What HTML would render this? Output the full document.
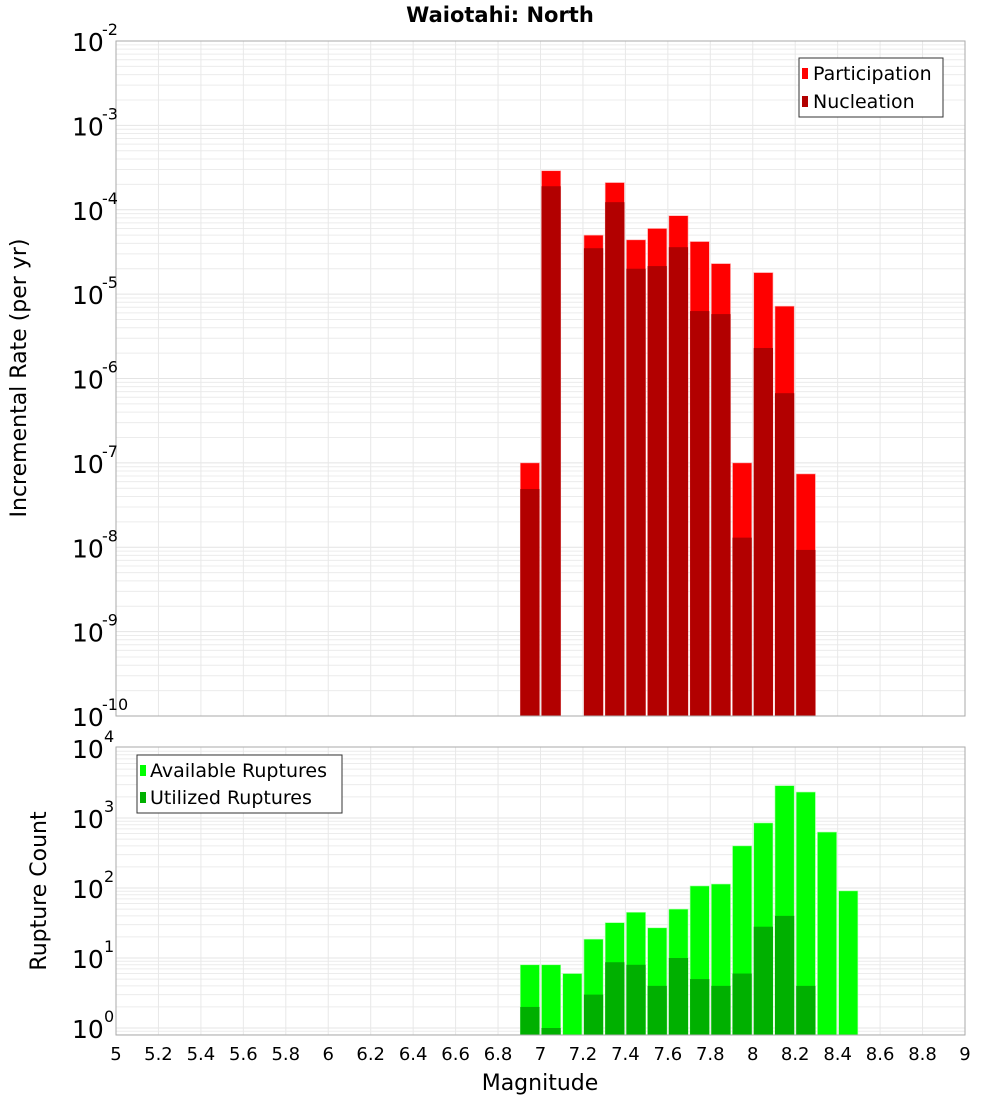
<!DOCTYPE html>
<html><head><meta charset="utf-8"><style>
body{margin:0;background:#fff;width:1000px;height:1100px;overflow:hidden}
svg{font-family:"DejaVu Sans","Liberation Sans",sans-serif}
</style></head><body>
<svg id="c" width="1000" height="1100"></svg>
<script>
const rateMags=[6.95,7.05,7.25,7.35,7.45,7.55,7.65,7.75,7.85,7.95,8.05,8.15,8.25];
const participation=[1e-7,2.9e-4,5e-5,2.1e-4,4.4e-5,6e-5,8.5e-5,4.2e-5,2.3e-5,1e-7,1.8e-5,7.2e-6,7.4e-8];
const nucleation=[4.9e-8,1.9e-4,3.5e-5,1.23e-4,2.0e-5,2.15e-5,3.6e-5,6.3e-6,5.8e-6,1.3e-8,2.3e-6,6.7e-7,9.3e-9];
const countMags=[6.95,7.05,7.15,7.25,7.35,7.45,7.55,7.65,7.75,7.85,7.95,8.05,8.15,8.25,8.35,8.45];
const available=[8,8,6,18.6,32,45,27,50,107,114,400,850,2900,2350,630,91];
const utilized=[2,1,0,3,8.7,8,4,10,5,4,6,28,40,4,0,0];
const xTicks=[5,5.2,5.4,5.6,5.8,6,6.2,6.4,6.6,6.8,7,7.2,7.4,7.6,7.8,8,8.2,8.4,8.6,8.8,9];
const topExps=[-2,-3,-4,-5,-6,-7,-8,-9,-10];
const botExps=[4,3,2,1,0];

const NS="http://www.w3.org/2000/svg";
const svg=document.getElementById('c');
function el(t,a,p){const e=document.createElementNS(NS,t);for(const k in a)e.setAttribute(k,a[k]);(p||svg).appendChild(e);return e;}
const X0=116,X1=965;
const x=m=>X0+(m-5)/4*(X1-X0);
const T0=41,T1=716;
const yTop=v=>T0+(-2-Math.log10(v))/8*(T1-T0);
const B0=747,B1=1035;
const BDEC=70;
const yBot=v=>1028-Math.log10(v)*BDEC;

function grid(g,yt,yb,expFrom,expTo,yf){
  for(let e=expFrom;e<expTo;e++)for(let k=1;k<10;k++){const yy=yf(k*Math.pow(10,e));if(yy<yt-0.5||yy>yb+0.5)continue;
    const l=el('line',{x1:X0,x2:X1,y1:yy,y2:yy,stroke:k==1?'#e4e4e4':'#ececec','stroke-width':1},g);
    }
  xTicks.forEach(t=>{const l=el('line',{x1:x(t),x2:x(t),y1:yt,y2:yb,stroke:'#e8e8e8'},g);
    });
}
// title
const title=el('text',{x:500,y:22,'text-anchor':'middle','font-size':21,'font-weight':'bold'});title.textContent='Waiotahi: North';


// top panel
const gt=el('g',{});
grid(gt,T0,T1,-10,-2,yTop);
const bw=(x(0.1)-x(0))-2;
rateMags.forEach((m,i)=>{
  const r=el('rect',{x:x(m)-bw/2,y:yTop(participation[i]),width:bw,height:T1-yTop(participation[i]),fill:'#ff0000',stroke:'#ffb0b0','stroke-width':0.6},gt);
  
  const n=el('rect',{x:x(m)-bw/2,y:yTop(nucleation[i]),width:bw,height:T1-yTop(nucleation[i]),fill:'#b20000'},gt);
  
});
el('rect',{x:X0,y:T0,width:X1-X0,height:T1-T0,fill:'none',stroke:'#aaa'},gt);
topExps.forEach(e=>{const yy=yTop(Math.pow(10,e));
  const t=el('text',{x:72,y:yy+10,'font-size':25},gt);t.textContent='10';
  
  const s=el('text',{x:102,y:yy-6,'font-size':16},gt);s.textContent=String(e);
  });
const yt1=el('text',{transform:'translate(26,378) rotate(-90)','text-anchor':'middle','font-size':22});yt1.textContent='Incremental Rate (per yr)';

// legend top
const lg=el('g',{});
el('rect',{x:799,y:58,width:144,height:59,fill:'#fff',stroke:'#333'},lg);
el('rect',{x:802,y:68,width:6,height:11,fill:'#ff0000'},lg);
el('rect',{x:802,y:96,width:6,height:11,fill:'#b20000'},lg);
let t=el('text',{x:813,y:80,'font-size':19},lg);t.textContent='Participation';
t=el('text',{x:813,y:108,'font-size':19},lg);t.textContent='Nucleation';

// bottom panel
const gb=el('g',{});
grid(gb,B0,B1,-1,4,yBot);
countMags.forEach((m,i)=>{
  const r=el('rect',{x:x(m)-bw/2,y:yBot(available[i]),width:bw,height:B1-yBot(available[i]),fill:'#00ff00',stroke:'#b0ffb0','stroke-width':0.6},gb);
  
  if(utilized[i]>0){const n=el('rect',{x:x(m)-bw/2,y:yBot(utilized[i]),width:bw,height:B1-yBot(utilized[i]),fill:'#00b000'},gb);
  }
});
el('rect',{x:X0,y:B0,width:X1-X0,height:B1-B0,fill:'none',stroke:'#aaa'},gb);
botExps.forEach(e=>{const yy=yBot(Math.pow(10,e));
  const t=el('text',{x:72,y:yy+10,'font-size':25},gb);t.textContent='10';
  
  const s=el('text',{x:104,y:yy-6,'font-size':16},gb);s.textContent=String(e);
  });
const yt2=el('text',{transform:'translate(46,891) rotate(-90)','text-anchor':'middle','font-size':22});yt2.textContent='Rupture Count';

const lg2=el('g',{});
el('rect',{x:137,y:755,width:205,height:58,fill:'#fff',stroke:'#333'},lg2);
el('rect',{x:140,y:765,width:6,height:11,fill:'#00ff00'},lg2);
el('rect',{x:140,y:792,width:6,height:11,fill:'#00b000'},lg2);
t=el('text',{x:150,y:777,'font-size':19},lg2);t.textContent='Available Ruptures';
t=el('text',{x:150,y:804,'font-size':19},lg2);t.textContent='Utilized Ruptures';

xTicks.forEach(v=>{const tt=el('text',{x:x(v),y:1060,'text-anchor':'middle','font-size':18});tt.textContent=String(v);
  });
const xt=el('text',{x:540,y:1090,'text-anchor':'middle','font-size':22});xt.textContent='Magnitude';

</script>
</body></html>
